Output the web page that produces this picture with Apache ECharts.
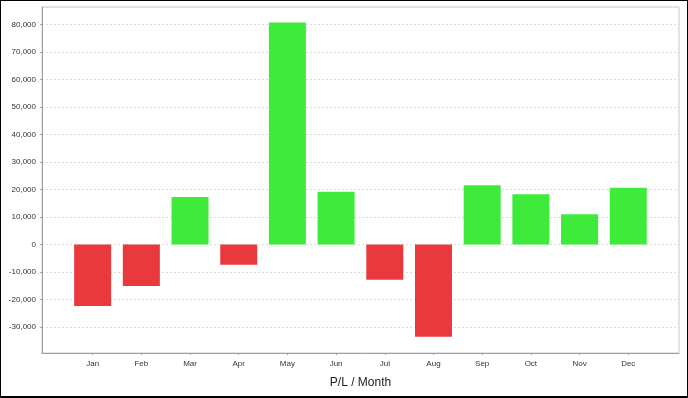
<!DOCTYPE html>
<html>
<head>
<meta charset="utf-8">
<script src="https://cdn.jsdelivr.net/npm/echarts@6/dist/echarts.min.js"></script>
<style>
    html, body { margin: 0; padding: 0; background: #fff; }
    #wrap { position: relative; width: 688px; height: 398px; }
    #chart { width: 688px; height: 398px; }
    #frame { position: absolute; left: 0; top: 0; width: 688px; height: 398px; box-sizing: border-box; border: solid #000; border-width: 1px 1px 2px 1px; pointer-events: none; }
</style>
</head>
<body>
<div id="wrap">
    <div id="chart"></div>
    <div id="frame"></div>
</div>
<script>
    var months = ['Jan', 'Feb', 'Mar', 'Apr', 'May', 'Jun', 'Jul', 'Aug', 'Sep', 'Oct', 'Nov', 'Dec'];
    var profit = [-22300, -15100, 17300, -7300, 80700, 19200, -12800, -33500, 21500, 18300, 11000, 20600];
    var yMin = -39400;
    var yMax = 86300;
    var yStep = 10000;

    var labelFont = 'Liberation Sans, Arial, sans-serif';

    var chart = echarts.init(document.getElementById('chart'));
    chart.setOption({
        animation: false,
        // grid 0 is the plot box, grid 1 holds the bars with the category margins
        grid: [
            {left: 42, right: 9, top: 7, bottom: 45, show: true, borderColor: '#c8c8c8', borderWidth: 1},
            {left: 68.3, right: 35.4, top: 7, bottom: 45}
        ],
        xAxis: [
            {
                gridIndex: 0,
                type: 'category',
                data: [],
                name: 'P/L / Month',
                nameLocation: 'middle',
                nameGap: 24,
                nameTextStyle: {fontSize: 12, color: '#222', fontFamily: labelFont},
                axisLine: {onZero: false, lineStyle: {color: '#a0a0a0'}},
                axisTick: {show: false},
                axisLabel: {show: false}
            },
            {
                gridIndex: 1,
                type: 'category',
                data: months,
                axisLine: {show: false, onZero: false},
                axisTick: {show: true, alignWithLabel: true, length: 2, lineStyle: {color: '#a0a0a0'}},
                axisLabel: {margin: 7, fontSize: 8, color: '#333', fontFamily: labelFont}
            }
        ],
        yAxis: [
            {
                gridIndex: 0,
                type: 'value',
                min: yMin,
                max: yMax,
                minInterval: yStep,
                maxInterval: yStep,
                axisLine: {show: true, onZero: false, lineStyle: {color: '#a0a0a0'}},
                axisTick: {show: true, length: 2, lineStyle: {color: '#a0a0a0'}},
                axisLabel: {
                    margin: 6,
                    fontSize: 8,
                    color: '#333',
                    fontFamily: labelFont,
                    showMinLabel: false,
                    showMaxLabel: false,
                    formatter: function (v) {
                        if (v % yStep !== 0) return '';
                        return v.toLocaleString('en-US');
                    }
                },
                splitLine: {show: true, lineStyle: {color: '#dcdcdc', type: [2, 2]}}
            },
            {
                gridIndex: 1,
                type: 'value',
                min: yMin,
                max: yMax,
                show: false
            }
        ],
        series: [
            {
                type: 'bar',
                xAxisIndex: 1,
                yAxisIndex: 1,
                barWidth: 37,
                data: profit,
                itemStyle: {
                    color: function (p) {
                        return p.value >= 0 ? '#3eeb3b' : '#e9393d';
                    }
                }
            }
        ]
    });
</script>
</body>
</html>
